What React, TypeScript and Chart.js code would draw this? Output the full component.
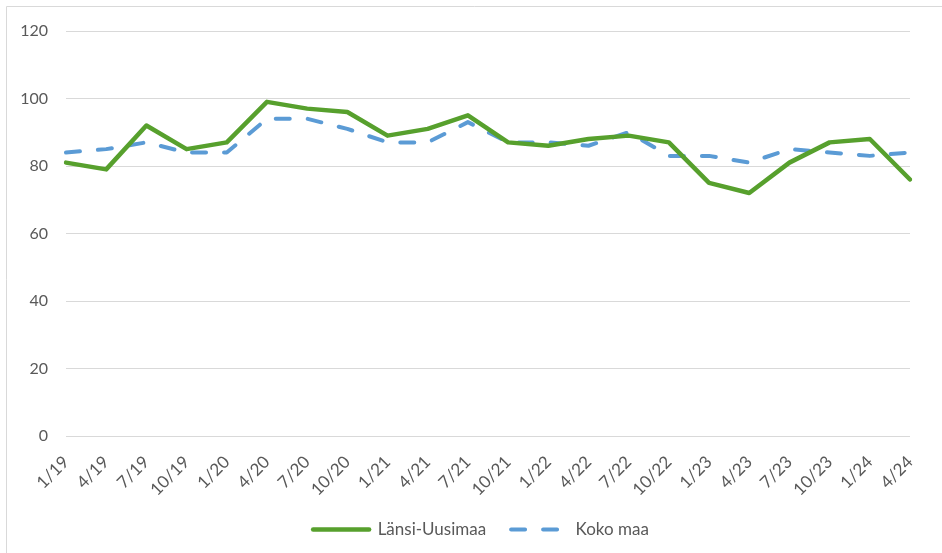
import React, { useEffect, useRef } from "react";
import { Chart, registerables } from "chart.js";

Chart.register(...registerables);

const categories = [
  "1/19", "4/19", "7/19", "10/19", "1/20", "4/20", "7/20", "10/20",
  "1/21", "4/21", "7/21", "10/21", "1/22", "4/22", "7/22", "10/22",
  "1/23", "4/23", "7/23", "10/23", "1/24", "4/24",
];

const lansiUusimaa = [81, 79, 92, 85, 87, 99, 97, 96, 89, 91, 95, 87, 86, 88, 89, 87, 75, 72, 81, 87, 88, 76];
const kokoMaa = [84, 85, 87, 84, 84, 94, 94, 91, 87, 87, 93, 87, 87, 86, 90, 83, 83, 81, 85, 84, 83, 84];

const yTicks = [0, 20, 40, 60, 80, 100, 120];

const seriesNames = ["Länsi-Uusimaa", "Koko maa"];

const GREEN = "#57a02d";
const BLUE = "#5b9bd5";
const TEXT = "#595959";
const GRID = "#d9d9d9";
const FONT = "Lato, 'Open Sans', sans-serif";

const borderPlugin = {
  id: "outerBorder",
  afterLayout(chart: any) {
    if (chart.legend) {
      chart.legend.left = 52;
    }
  },
  beforeDraw(chart: any) {
    const ctx = chart.ctx;
    ctx.save();
    ctx.strokeStyle = GRID;
    ctx.lineWidth = 1;
    ctx.beginPath();
    ctx.moveTo(6.5, chart.height);
    ctx.lineTo(6.5, 6.5);
    ctx.lineTo(chart.width, 6.5);
    ctx.stroke();
    ctx.restore();
  },
};

export default function App() {
  const ref = useRef<HTMLCanvasElement | null>(null);

  useEffect(() => {
    if (!ref.current) return;
    const chart = new Chart(ref.current, {
      type: "line",
      data: {
        labels: categories,
        datasets: [
          {
            label: seriesNames[0],
            data: lansiUusimaa,
            borderColor: GREEN,
            backgroundColor: GREEN,
            borderWidth: 4.5,
            pointRadius: 0,
            tension: 0,
            borderCapStyle: "round",
            borderJoinStyle: "round",
          },
          {
            label: seriesNames[1],
            data: kokoMaa,
            borderColor: BLUE,
            backgroundColor: BLUE,
            borderWidth: 4,
            borderDash: [14, 18],
            pointRadius: 0,
            tension: 0,
            borderCapStyle: "round",
            borderJoinStyle: "round",
          },
        ],
      },
      options: {
        responsive: false,
        animation: false,
        layout: { padding: { top: 31, left: 0, right: 32, bottom: 5 } },
        scales: {
          x: {
            offset: false,
            grid: { display: false, drawTicks: false },
            border: { display: false },
            ticks: {
              color: TEXT,
              font: { family: FONT, size: 17 },
              minRotation: 45,
              maxRotation: 45,
              autoSkip: false,
              padding: 16,
            },
            afterFit(scale: any) {
              scale.height = 60;
            },
          },
          y: {
            min: 0,
            max: 120,
            afterBuildTicks(scale: any) {
              scale.ticks = yTicks.map((v) => ({ value: v }));
            },
            grid: { color: GRID, lineWidth: 1, drawTicks: false },
            border: { display: false },
            ticks: {
              color: TEXT,
              font: { family: FONT, size: 16 },
              padding: 18,
            },
            afterFit(scale: any) {
              scale.width = 66;
            },
          },
        },
        plugins: {
          tooltip: { enabled: false },
          legend: {
            position: "bottom",
            labels: {
              color: TEXT,
              font: { family: FONT, size: 17 },
              usePointStyle: true,
              pointStyleWidth: 56,
              boxHeight: 4,
              padding: 25,
              generateLabels(chart: any) {
                return chart.data.datasets.map((ds: any, i: number) => ({
                  text: ds.label,
                  fillStyle: ds.borderColor,
                  strokeStyle: ds.borderColor,
                  lineWidth: ds.borderWidth,
                  lineDash: ds.borderDash || [],
                  lineDashOffset: 0,
                  lineCap: "round",
                  pointStyle: "line",
                  fontColor: TEXT,
                  hidden: false,
                  datasetIndex: i,
                }));
              },
            },
          },
        },
      },
      plugins: [borderPlugin],
    } as any);
    return () => chart.destroy();
  }, []);

  return (
    <div style={{ position: "absolute", left: 0, top: 0, width: 942, height: 553, background: "#fff" }}>
      <canvas ref={ref} width={942} height={553} />
    </div>
  );
}
